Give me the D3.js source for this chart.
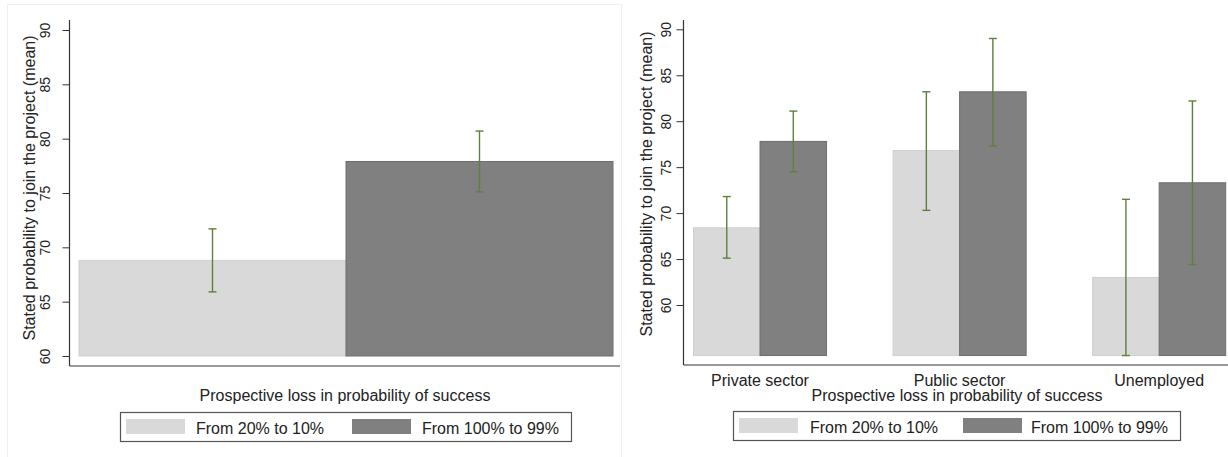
<!DOCTYPE html>
<html>
<head>
<meta charset="utf-8">
<script src="https://cdn.jsdelivr.net/npm/d3@7"></script>
<style>
  body { margin: 0; background: #fff; }
  svg { display: block; font-family: "Liberation Sans", Arial, sans-serif; }
</style>
</head>
<body>
<svg id="chart" width="1228" height="457"></svg>
<script>
// left panel: pooled
var groups = ["From 20% to 10%", "From 100% to 99%"];
var pooledMean = [68.8, 77.9];
var pooledLo = [65.9, 75.1];
var pooledHi = [71.7, 80.7];

// right panel: by employment sector
var sectors = ["Private sector", "Public sector", "Unemployed"];
var mean20 = [68.4, 76.8, 63.0];
var lo20 = [65.1, 70.3, 54.5];
var hi20 = [71.8, 83.2, 71.5];
var mean100 = [77.8, 83.2, 73.3];
var lo100 = [74.5, 77.3, 64.4];
var hi100 = [81.1, 89.0, 82.2];

var yTicks = [60, 65, 70, 75, 80, 85, 90];
var colors = ["#d9d9d9", "#808080"];
var strokes = ["#cfcfcf", "#6e6e6e"];
var ciColor = "#5e7f3e";
var yTitle = "Stated probability to join the project (mean)";
var xTitle = "Prospective loss in probability of success";

var svg = d3.select("#chart");

// faint frame of the left picture
svg.append("rect")
    .attr("x", 7.5).attr("y", 4.5)
    .attr("width", 614).attr("height", 470)
    .attr("fill", "none")
    .attr("stroke", "#efefef");

var yAxisFor = function(g, y, x0, top, bottom, labelGap) {
  g.append("line")
      .attr("x1", x0).attr("x2", x0)
      .attr("y1", top).attr("y2", bottom)
      .attr("stroke", "#333").attr("stroke-width", 1.2);

  var ax = g.append("g")
      .attr("transform", "translate(" + x0 + ",0)")
      .call(d3.axisLeft(y).tickValues(yTicks).tickSize(7).tickSizeOuter(0));
  ax.select(".domain").remove();
  ax.selectAll(".tick line").attr("stroke", "#333");
  ax.selectAll(".tick text")
      .attr("transform", "rotate(-90)")
      .attr("x", 0)
      .attr("y", -labelGap)
      .attr("dy", 0)
      .style("text-anchor", "middle")
      .style("font-family", "Liberation Sans, Arial, sans-serif")
      .style("font-size", "14px")
      .attr("fill", "#222");
};

var errorBar = function(g, x, yLo, yHi) {
  g.append("line")
      .attr("x1", x).attr("x2", x).attr("y1", yLo).attr("y2", yHi)
      .attr("stroke", ciColor).attr("stroke-width", 1.4);
  [yLo, yHi].forEach(function(yy) {
    g.append("line")
        .attr("x1", x - 4).attr("x2", x + 4).attr("y1", yy).attr("y2", yy)
        .attr("stroke", ciColor).attr("stroke-width", 1.4);
  });
};

var legend = function(g, x0, y0, w, offs, textGap) {
  g.append("rect")
      .attr("x", x0 + 0.5).attr("y", y0 + 0.5)
      .attr("width", w).attr("height", 29)
      .attr("fill", "#fff").attr("stroke", "#555").attr("stroke-width", 1.2);
  groups.forEach(function(name, i) {
    g.append("rect")
        .attr("x", x0 + offs[i]).attr("y", y0 + 7)
        .attr("width", 59).attr("height", 15)
        .attr("fill", colors[i]);
    g.append("text")
        .attr("x", x0 + offs[i] + textGap[i]).attr("y", y0 + 22)
        .attr("font-size", 16).attr("fill", "#222")
        .text(name);
  });
};

// ---- left panel
var left = svg.append("g");
var yL = d3.scaleLinear().domain([60, 90]).range([356, 30]);
var xL = d3.scaleBand().domain(groups).range([79, 613]).padding(0);

left.append("line")
    .attr("x1", 69.5).attr("x2", 620).attr("y1", 366).attr("y2", 366)
    .attr("stroke", "#777").attr("stroke-width", 1.5);

left.selectAll(".bar")
    .data(groups)
    .enter()
  .append("rect")
    .attr("class", "bar")
    .attr("x", function(d) { return xL(d); })
    .attr("width", xL.bandwidth())
    .attr("y", function(d, i) { return yL(pooledMean[i]); })
    .attr("height", function(d, i) { return yL(60) - yL(pooledMean[i]); })
    .attr("fill", function(d, i) { return colors[i]; })
    .attr("stroke", function(d, i) { return strokes[i]; });

groups.forEach(function(d, i) {
  errorBar(left, xL(d) + xL.bandwidth() / 2, yL(pooledLo[i]), yL(pooledHi[i]));
});

yAxisFor(left, yL, 69.5, 20, 366, 20);

left.append("text")
    .attr("transform", "translate(35," + 188 + ") rotate(-90)")
    .attr("text-anchor", "middle")
    .attr("font-size", 16).attr("fill", "#222")
    .text(yTitle);

left.append("text")
    .attr("x", 345).attr("y", 401)
    .attr("text-anchor", "middle")
    .attr("font-size", 16).attr("fill", "#222")
    .text(xTitle);

legend(left, 120, 412, 451, [6, 232], [70, 70]);

// ---- right panel
var right = svg.append("g");
var yR = d3.scaleLinear().domain([60, 90]).range([305, 29.3]);
var x0R = d3.scaleBand().domain(sectors).range([693.5, 1225.7]).paddingInner(1 / 3).paddingOuter(0);
var x1R = d3.scaleBand().domain(groups).range([0, x0R.bandwidth()]).padding(0);
var baseR = 54.5;

right.append("line")
    .attr("x1", 683.5).attr("x2", 1228).attr("y1", 365).attr("y2", 365)
    .attr("stroke", "#777").attr("stroke-width", 1.5);

var cells = [];
sectors.forEach(function(s, i) {
  cells.push({ sector: s, group: groups[0], k: 0, mean: mean20[i], lo: lo20[i], hi: hi20[i] });
  cells.push({ sector: s, group: groups[1], k: 1, mean: mean100[i], lo: lo100[i], hi: hi100[i] });
});

right.selectAll(".bar")
    .data(cells)
    .enter()
  .append("rect")
    .attr("class", "bar")
    .attr("x", function(d) { return x0R(d.sector) + x1R(d.group); })
    .attr("width", x1R.bandwidth())
    .attr("y", function(d) { return yR(d.mean); })
    .attr("height", function(d) { return yR(baseR) - yR(d.mean); })
    .attr("fill", function(d) { return colors[d.k]; })
    .attr("stroke", function(d) { return strokes[d.k]; });

cells.forEach(function(d) {
  errorBar(right, x0R(d.sector) + x1R(d.group) + x1R.bandwidth() / 2, yR(d.lo), yR(d.hi));
});

yAxisFor(right, yR, 683.5, 20, 365, 13);

right.selectAll(".cat")
    .data(sectors)
    .enter()
  .append("text")
    .attr("class", "cat")
    .attr("x", function(d) { return x0R(d) + x0R.bandwidth() / 2; })
    .attr("y", 386)
    .attr("text-anchor", "middle")
    .attr("font-size", 16).attr("fill", "#222")
    .text(function(d) { return d; });

right.append("text")
    .attr("transform", "translate(652," + 184 + ") rotate(-90)")
    .attr("text-anchor", "middle")
    .attr("font-size", 16).attr("fill", "#222")
    .text(yTitle);

right.append("text")
    .attr("x", 957).attr("y", 401)
    .attr("text-anchor", "middle")
    .attr("font-size", 16).attr("fill", "#222")
    .text(xTitle);

legend(right, 733, 411, 447, [6, 230], [71, 68]);
</script>
</body>
</html>
